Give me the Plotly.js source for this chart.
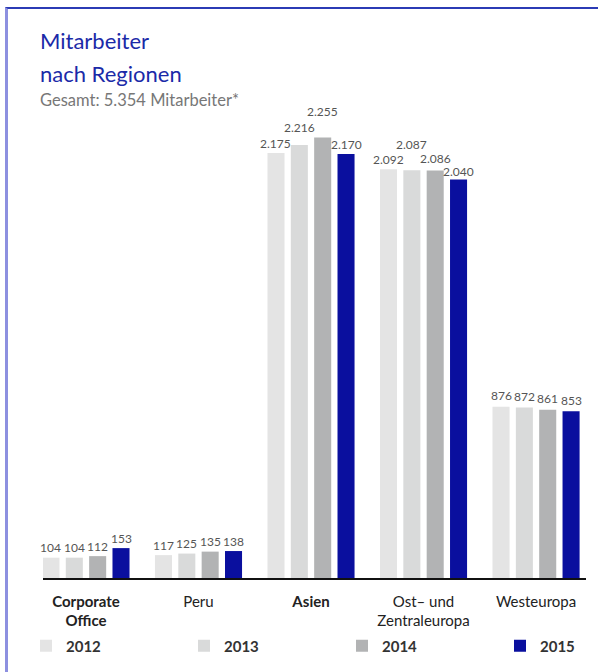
<!DOCTYPE html>
<html><head><meta charset="utf-8">
<script src="https://cdn.plot.ly/plotly-3.0.1.min.js"></script>
<style>
html,body{margin:0;padding:0;background:#fff;}
#frame{position:absolute;left:5px;top:7px;width:593px;height:665px;border-top:2px solid #2b3bb5;border-left:3px solid #8d90e0;box-sizing:border-box;}
#chart{position:absolute;left:0;top:0;width:598px;height:672px;}
</style></head>
<body>
<div id="frame"></div>
<div id="chart"></div>
<script>
const categories = ["<b>Corporate<br>Office</b>", "Peru", "<b>Asien</b>", "Ost– und<br>Zentraleuropa", "Westeuropa"];
const years = ["2012", "2013", "2014", "2015"];
const v2012 = [104, 117, 2175, 2092, 876];
const v2013 = [104, 125, 2216, 2087, 872];
const v2014 = [112, 135, 2255, 2086, 861];
const v2015 = [153, 138, 2170, 2040, 853];
const colors = ["#e4e4e4", "#d9dada", "#b2b3b4", "#0a0f9e"];
const series = [v2012, v2013, v2014, v2015];
// vertical gap (px) between each bar top and its value label, per year (rows) and region (cols)
const labelGap = [
  [10, 10, 10, 10, 11],
  [10, 10, 18, 26, 11],
  [10, 10, 26, 12, 11],
  [10, 10, 10, 8, 11]
];

const fmt = v => v >= 1000 ? Math.floor(v/1000) + "." + String(v%1000).padStart(3,"0") : String(v);

const legendIds = ["legend", "legend2", "legend3", "legend4"];
const traces = series.map((vals, i) => ({
  type: "bar",
  name: "<b>" + years[i] + "</b>",
  x: categories,
  y: vals,
  marker: {color: colors[i]},
  legend: legendIds[i],
  hoverinfo: "none"
}));

const bargap = 0.17, nSeries = series.length;
const slot = (1 - bargap) / nSeries;
const annotations = [];
series.forEach((vals, i) => {
  vals.forEach((v, j) => {
    annotations.push({
      xref: "x", yref: "y", x: j + (i - (nSeries - 1) / 2) * slot, y: v,
      xanchor: "center", yanchor: "middle", yshift: labelGap[i][j],
      text: fmt(v), showarrow: false,
      font: {size: 12, color: "#555", family: "Lato, sans-serif"}
    });
  });
});
// plot area: top 70px, bottom 578px (height 508px)
const py = p => (578 - p) / 508;
annotations.push(
  {xref: "paper", yref: "paper", x: -5/543, y: py(40), xanchor: "left", yanchor: "middle",
   text: "Mitarbeiter", align: "left", showarrow: false,
   font: {size: 22, color: "#1b2aa8", family: "Lato, sans-serif"}},
  {xref: "paper", yref: "paper", x: -5/543, y: py(73), xanchor: "left", yanchor: "middle",
   text: "nach Regionen", align: "left", showarrow: false,
   font: {size: 22, color: "#1b2aa8", family: "Lato, sans-serif"}},
  {xref: "paper", yref: "paper", x: -5/543, y: py(100), xanchor: "left", yanchor: "middle",
   text: "Gesamt: 5.354 Mitarbeiter*", align: "left", showarrow: false,
   font: {size: 16.5, color: "#777", family: "Lato, sans-serif"}}
);

const legendBase = {orientation: "h", xref: "container", yref: "container",
  y: 1 - 646/672, yanchor: "middle", xanchor: "left", itemwidth: 30,
  bgcolor: "rgba(0,0,0,0)", font: {size: 15, color: "#333"}};
const legendX = [26, 184, 342, 500];

const layout = {
  width: 598, height: 672,
  margin: {l: 43, r: 12, t: 70, b: 94, autoexpand: false},
  paper_bgcolor: "rgba(0,0,0,0)",
  plot_bgcolor: "rgba(0,0,0,0)",
  font: {family: "Lato, sans-serif", color: "#222"},
  barmode: "group",
  bargap: bargap,
  bargroupgap: 0.27,
  showlegend: true,
  legend: Object.assign({}, legendBase, {x: legendX[0] / 598}),
  legend2: Object.assign({}, legendBase, {x: legendX[1] / 598}),
  legend3: Object.assign({}, legendBase, {x: legendX[2] / 598}),
  legend4: Object.assign({}, legendBase, {x: legendX[3] / 598}),
  xaxis: {range: [-0.382, 4.444], showline: true, linecolor: "#111", linewidth: 1.5,
          ticks: "", ticklabelstandoff: 9, tickfont: {size: 15, color: "#222"},
          fixedrange: true, showgrid: false},
  yaxis: {range: [0, 2600], visible: false, fixedrange: true},
  annotations: annotations
};

Plotly.newPlot("chart", traces, layout, {displayModeBar: false, staticPlot: true});
</script>
</body></html>
